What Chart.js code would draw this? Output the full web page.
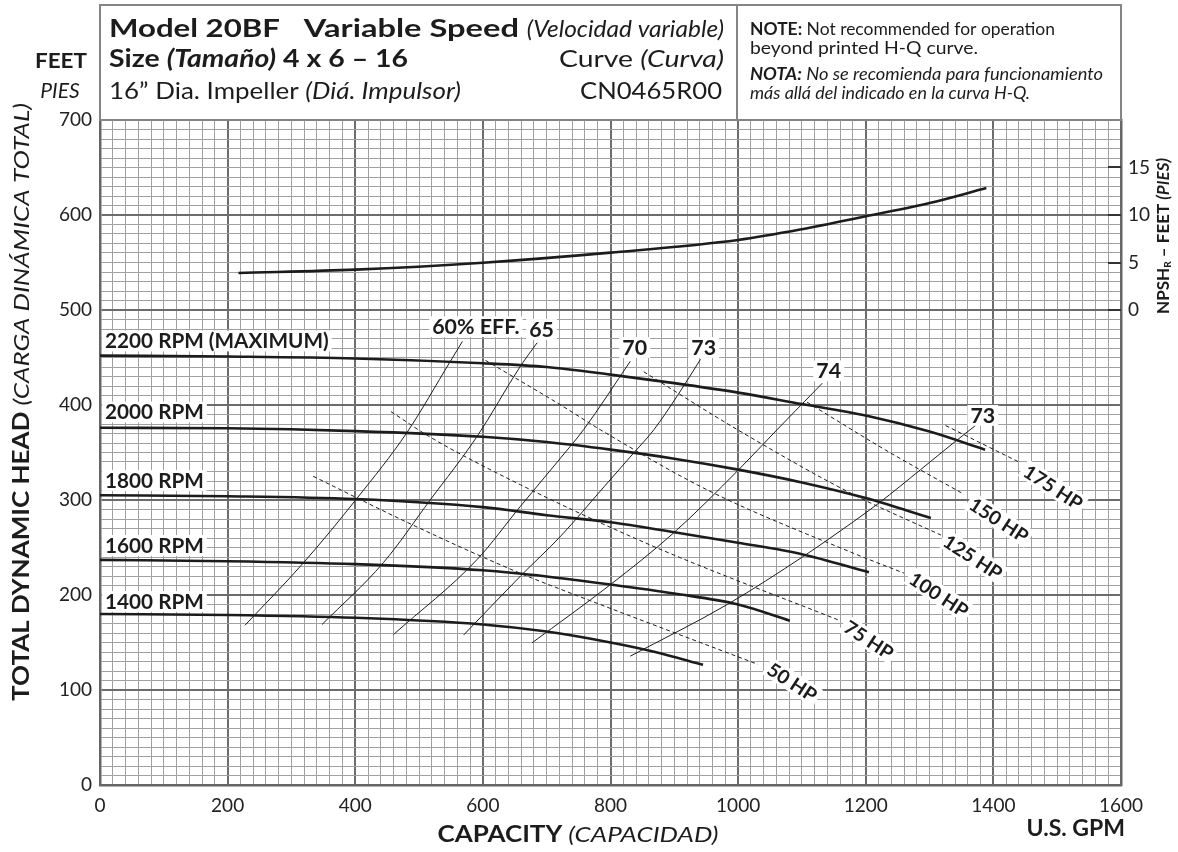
<!DOCTYPE html>
<html>
<head>
<meta charset="utf-8">
<title>Model 20BF Variable Speed – CN0465R00</title>
<script src="https://cdn.jsdelivr.net/npm/chart.js@4.4.1/dist/chart.umd.min.js"></script>
<style>
  html, body { margin: 0; padding: 0; background: #fff; }
  canvas { display: block; }
</style>
</head>
<body>
<canvas id="pump" width="1178" height="852"></canvas>
<script>
// ---- axis ticks ----
const capacityTicks = [0, 200, 400, 600, 800, 1000, 1200, 1400, 1600];   // U.S. GPM
const headTicks = [0, 100, 200, 300, 400, 500, 600, 700];                 // feet
const npshTicks = [0, 5, 10, 15];                                         // feet

// ---- head-capacity curves, [GPM, feet] ----
const rpm2200 = [[0,452],[200,451],[400,449],[600,444],[700,440],[800,432],[900,423],[1000,413],[1100,401],[1200,389],[1300,372],[1387,353]];
const rpm2000 = [[0,376],[200,375.5],[400,372.5],[600,366.5],[700,361],[800,353],[900,343.5],[1000,332],[1100,318.5],[1200,302],[1302,281]];
const rpm1800 = [[0,305],[200,304],[400,301],[600,292.5],[700,284],[800,276.5],[900,266],[1000,255],[1100,243],[1205,224]];
const rpm1600 = [[0,237],[200,235.6],[400,232.5],[600,226],[700,219.5],[800,211],[900,201.5],[1000,190],[1081,173]];
const rpm1400 = [[0,180],[200,179],[400,176],[600,169],[700,161.5],[800,150],[870,140],[945,126.5]];

// ---- NPSHr, [GPM, feet] ----
const npshR = [[217,3.9],[400,4.25],[600,4.98],[800,6.04],[1000,7.37],[1100,8.5],[1200,9.86],[1300,11.26],[1389,12.84]];

// ---- iso-efficiency lines, [GPM, feet] ----
const eff60  = [[227,168],[319,234],[403,302],[481,371],[549,446],[568,467]];
const eff65  = [[348,169],[444,234],[518,300.5],[591,367],[659,441],[685,465.5]];
const eff70  = [[460,158.4],[591,237.4],[659,293.5],[722,344.4],[758,374.2],[831,446]];
const eff73a = [[570,158],[659,220],[722,262],[790,314],[837,350],[868,374],[905,410],[941,448]];
const eff74  = [[677,149.6],[800,211],[899,265.4],[1001,332],[1061,374],[1132,423]];
const eff73b = [[831,135.6],[983,190],[1103,241],[1140,258],[1221,297],[1286,332],[1341,362],[1375,380]];

// ---- brake horsepower lines, [GPM, feet] ----
const hp50  = [[334,325],[486,275],[658,223],[722,206],[1031,127]];
const hp75  = [[456,393],[518,366],[659,316],[868,251],[1156,174]];
const hp100 = [[604,447],[722,400],[784,374],[952,310.5],[1177,245],[1260,223]];
const hp125 = [[852,435],[999,374],[1177,307],[1318,263]];
const hp150 = [[1108,403],[1230,353],[1354,306]];
const hp175 = [[1325,378.4],[1443,339]];

// ---- curve captions ----
const rpmNames = ['2200 RPM (MAXIMUM)', '2000 RPM', '1800 RPM', '1600 RPM', '1400 RPM'];
const effNames = ['60% EFF.', '65', '70', '73', '74', '73'];
const hpNames  = ['175 HP', '150 HP', '125 HP', '100 HP', '75 HP', '50 HP'];

// caption anchors in chart units [GPM, feet]
const rpmAnchors = [[8,467.4],[8,392.6],[8,320.5],[8,252.1],[8,193.2]];
const effAnchors = [[589,482.4],[692,479.5],[838,460.5],[946,460.5],[1142,436],[1383.5,389]];
const hpAnchors  = [[1494,313.5],[1409,279],[1368,240],[1315,200.5],[1205,153],[1085,108.4]];

const FONT = 'Lato, "Open Sans", sans-serif';
const INK = '#1c1c1c';
const GRID_MINOR = '#a0a0a0';
const GRID_MAJOR = '#6c6c6c';

const toPts = arr => arr.map(([x, y]) => ({ x, y }));

function line(data, width, dash, axis) {
  return {
    data: toPts(data),
    showLine: true,
    borderColor: INK,
    borderWidth: width,
    borderDash: dash || [],
    pointRadius: 0,
    cubicInterpolationMode: 'monotone',
    yAxisID: axis || 'y',
    fill: false
  };
}

const datasets = [
  ...[eff60, eff65, eff70, eff73a, eff74, eff73b].map(d => line(d, 1)),
  ...[hp50, hp75, hp100, hp125, hp150, hp175].map(d => line(d, 1, [4, 3])),
  ...[rpm2200, rpm2000, rpm1800, rpm1600, rpm1400].map(d => line(d, 2.6)),
  line(npshR, 2.6, null, 'y2')
];

function fontStr(style, size) {
  return (style.includes('i') ? 'italic ' : '') + (style.includes('b') ? '700 ' : '400 ') + size + 'px ' + FONT;
}

// draws a run of differently styled pieces on one baseline.
// piece = [text, style, sizeFactor, dy, widen]; opts.width, when given, sets the run's overall width
function drawRich(ctx, segs, x, y, opts) {
  const size = opts.size;
  const widths = segs.map(s => {
    ctx.font = fontStr(s[1], size * (s[2] || 1));
    return ctx.measureText(s[0]).width * (s[4] || 1);
  });
  const total = widths.reduce((a, b) => a + b, 0);
  const k = opts.width ? opts.width / total : (opts.stretch || 1);
  const start = opts.align === 'right' ? x - total * k : opts.align === 'center' ? x - total * k / 2 : x;
  ctx.save();
  ctx.translate(start, y);
  ctx.textAlign = 'left';
  ctx.textBaseline = opts.baseline || 'alphabetic';
  ctx.fillStyle = opts.color || INK;
  let cx = 0;
  segs.forEach((s, i) => {
    ctx.save();
    ctx.translate(cx, 0);
    ctx.scale(k * (s[4] || 1), 1);
    ctx.font = fontStr(s[1], size * (s[2] || 1));
    ctx.fillText(s[0], 0, s[3] || 0);
    ctx.restore();
    cx += widths[i] * k;
  });
  ctx.restore();
}

// bold caption on a white patch, optionally turned
function boxedText(ctx, text, px, py, size, angle, align, stretch) {
  const sx = stretch || 1;
  ctx.save();
  ctx.translate(px, py);
  ctx.rotate(angle || 0);
  ctx.font = fontStr('b', size);
  const w = ctx.measureText(text).width * sx;
  const x0 = align === 'left' ? 0 : -w / 2;
  ctx.fillStyle = '#fff';
  ctx.fillRect(x0 - 3, -size * 0.52, w + 6, size * 1.04);
  ctx.translate(x0, 0);
  ctx.scale(sx, 1);
  ctx.fillStyle = INK;
  ctx.textAlign = 'left';
  ctx.textBaseline = 'middle';
  ctx.fillText(text, 0, 1);
  ctx.restore();
}

const captions = {
  id: 'captions',
  afterDatasetsDraw(chart) {
    const { ctx, scales: { x, y } } = chart;
    rpmNames.forEach((t, i) => boxedText(ctx, t, x.getPixelForValue(rpmAnchors[i][0]), y.getPixelForValue(rpmAnchors[i][1]), 20, 0, 'left', 1.035));
    effNames.forEach((t, i) => boxedText(ctx, t, x.getPixelForValue(effAnchors[i][0]), y.getPixelForValue(effAnchors[i][1]), 20, 0, 'center', 1.07));
    hpNames.forEach((t, i) => boxedText(ctx, t, x.getPixelForValue(hpAnchors[i][0]), y.getPixelForValue(hpAnchors[i][1]), 19, 33 * Math.PI / 180, 'center', 1.03));
  },
  afterDraw(chart) {
    const { ctx, chartArea: a, scales: { y2 } } = chart;

    // NPSH tick marks, pointing into the grid
    ctx.save();
    ctx.strokeStyle = '#333';
    ctx.lineWidth = 2;
    npshTicks.forEach(v => {
      const py = Math.round(y2.getPixelForValue(v));
      ctx.beginPath();
      ctx.moveTo(a.right - 13, py);
      ctx.lineTo(a.right, py);
      ctx.stroke();
    });
    ctx.restore();

    // title block
    const top = 5, mid = 737;
    ctx.save();
    ctx.fillStyle = '#fff';
    ctx.fillRect(a.left, top, a.right - a.left, a.top - top);
    ctx.strokeStyle = '#858585';
    ctx.lineWidth = 2;
    ctx.strokeRect(a.left, top, a.right - a.left, a.top - top);
    ctx.beginPath();
    ctx.moveTo(mid, top);
    ctx.lineTo(mid, a.top);
    ctx.stroke();
    ctx.restore();

    drawRich(ctx, [['Model 20BF', 'b', 1, 0, 1.3], ['   Variable Speed ', 'b', 1, 0, 1.36], ['(Velocidad variable)', 'i', 1, 0, 1.02]], 109, 37, { size: 24, width: 615 });
    drawRich(ctx, [['Size ', 'b'], ['(Tamaño)', 'bi'], [' 4 x 6 – 16', 'b']], 109, 67, { size: 24, width: 299 });
    drawRich(ctx, [['Curve ', 'r'], ['(Curva)', 'i']], 724, 67, { size: 24, align: 'right', width: 165 });
    drawRich(ctx, [['16” Dia. Impeller ', 'r'], ['(Diá. Impulsor)', 'i']], 109, 99, { size: 24, width: 352 });
    drawRich(ctx, [['CN0465R00', 'r']], 722, 99, { size: 24, align: 'right', width: 142 });

    drawRich(ctx, [['NOTE:', 'b'], [' Not recommended for operation', 'r']], 750, 35, { size: 16.5, width: 305 });
    drawRich(ctx, [['beyond printed H-Q curve.', 'r']], 750, 54, { size: 16.5, width: 228 });
    drawRich(ctx, [['NOTA:', 'bi'], [' No se recomienda para funcionamiento', 'i']], 750, 80, { size: 16.5, width: 353 });
    drawRich(ctx, [['más allá del indicado en la curva H-Q.', 'i']], 750, 99, { size: 16.5, width: 280 });

    drawRich(ctx, [['FEET', 'b']], 61, 68, { size: 21, align: 'center', width: 52 });
    drawRich(ctx, [['PIES', 'i']], 60, 98, { size: 21, align: 'center' });

    // axis titles
    ctx.save();
    ctx.translate(22, 402);
    ctx.rotate(-Math.PI / 2);
    drawRich(ctx, [['TOTAL DYNAMIC HEAD', 'b'], [' (CARGA DINÁMICA TOTAL)', 'i']], 0, 0, { size: 22, align: 'center', baseline: 'middle', width: 598 });
    ctx.restore();

    drawRich(ctx, [['CAPACITY', 'b'], [' (CAPACIDAD)', 'i']], 578, 842, { size: 22, align: 'center', width: 281 });
    drawRich(ctx, [['U.S. GPM', 'b']], 1125, 836, { size: 23, align: 'right' });

    ctx.save();
    ctx.translate(1164, 236);
    ctx.rotate(-Math.PI / 2);
    drawRich(ctx, [['NPSH', 'b'], ['R', 'b', 0.6, 4], [' – FEET ', 'b'], ['(PIES)', 'bi']], 0, 0, { size: 17, align: 'center', baseline: 'middle' });
    ctx.restore();
  }
};

const isMajor = (v, step) => Math.abs(v % step) < 1e-6;

new Chart(document.getElementById('pump'), {
  type: 'scatter',
  data: { datasets },
  options: {
    responsive: false,
    animation: false,
    events: [],
    layout: { padding: { top: 120, left: 0, right: 0, bottom: 0 } },
    plugins: { legend: { display: false }, tooltip: { enabled: false } },
    scales: {
      x: {
        type: 'linear', min: capacityTicks[0], max: capacityTicks[capacityTicks.length - 1],
        afterFit: s => { s.height = 67; },
        ticks: {
          stepSize: 20, autoSkip: false, maxRotation: 0, padding: 9,
          color: '#222', font: { family: FONT, size: 19 },
          callback: v => capacityTicks.includes(v) ? String(v) : ''
        },
        grid: {
          drawTicks: false,
          color: c => isMajor(c.tick.value, 200) ? GRID_MAJOR : GRID_MINOR,
          lineWidth: c => isMajor(c.tick.value, 200) ? 2 : 1
        },
        border: { color: '#666', width: 2.5 }
      },
      y: {
        type: 'linear', min: headTicks[0], max: headTicks[headTicks.length - 1],
        afterFit: s => { s.width = 100; },
        ticks: {
          stepSize: 10, autoSkip: false, padding: 8,
          color: '#222', font: { family: FONT, size: 19 },
          callback: v => headTicks.includes(v) ? String(v) : ''
        },
        grid: {
          drawTicks: false,
          color: c => isMajor(c.tick.value, 100) ? GRID_MAJOR : GRID_MINOR,
          lineWidth: c => isMajor(c.tick.value, 100) ? 2 : 1
        },
        border: { color: '#666', width: 2.5 }
      },
      y2: {
        type: 'linear', position: 'right', min: -50, max: 20,
        afterFit: s => { s.width = 1178 - 1121; },
        afterBuildTicks: s => { s.ticks = npshTicks.map(v => ({ value: v })); },
        ticks: { padding: 7, color: '#222', font: { family: FONT, size: 19 } },
        grid: { drawOnChartArea: false, drawTicks: false },
        border: { color: '#666', width: 2.5 }
      }
    }
  },
  plugins: [captions]
});
</script>
</body>
</html>
